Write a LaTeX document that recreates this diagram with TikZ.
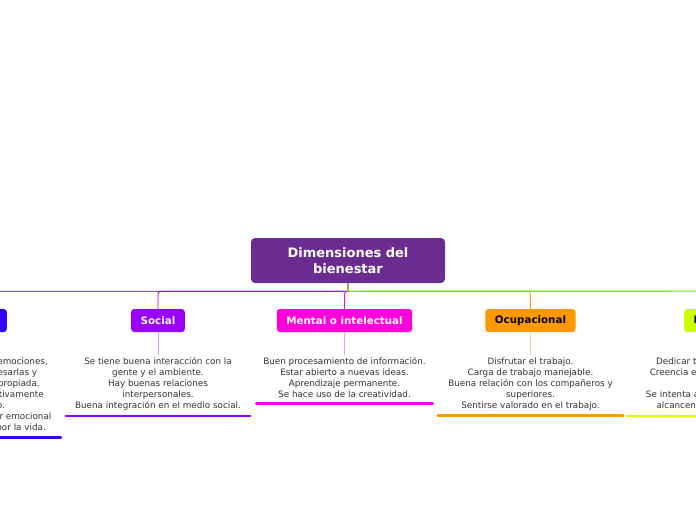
\documentclass[tikz,border=0pt]{standalone}
\usepackage{fontspec}
\setmainfont{DejaVu Sans}
\usetikzlibrary{positioning}
\definecolor{craiz}{HTML}{6A2C91}
\definecolor{cemo}{HTML}{3300FF}
\definecolor{csoc}{HTML}{9900FF}
\definecolor{cmen}{HTML}{FF00DD}
\definecolor{cocu}{HTML}{FF9900}
\definecolor{cesp}{HTML}{CCFF00}
\definecolor{cfis}{HTML}{44DD22}
\definecolor{ctexto}{HTML}{333333}

\begin{document}
\begin{tikzpicture}[x=1pt,y=-1pt,
		raiz/.style={
			fill=craiz,
			rounded corners=4pt,
			text=white,
			font=\fontsize{13}{16}\selectfont\bfseries,
			align=center,
			minimum width=194pt,
			minimum height=45pt
		},
		rama/.style={fill=#1, rounded corners=3pt, font=\fontsize{10.3}{12}\selectfont\bfseries, minimum height=23pt, inner xsep=9.5pt},
		texto/.style={font=\fontsize{8.8}{11}\selectfont, text=ctexto, align=center, inner sep=0pt},
		linea/.style={line width=0.9pt},
		guia/.style={line width=0.8pt},
		subraya/.style={line width=2.6pt, line cap=round}]
		\useasboundingbox (0,0) rectangle (696,520);
		\clip (0,0) rectangle (696,520);
		
		\node[raiz] (dim) at (348,260.5) {Dimensiones del\\bienestar};
		
		\node[rama=cemo, text=white, anchor=east] (emo) at (7,320.5) {Emocional};
		\node[rama=csoc, text=white] (soc) at (158,320.5) {Social};
		\node[rama=cmen, text=white] (men) at (344.5,320.5) {Mental o intelectual};
		\node[rama=cocu] (ocu) at (530.5,320.5) {Ocupacional};
		\node[rama=cesp, anchor=west] (esp) at (684,320.5) {Espiritual};
		\coordinate (sig) at (760,291);
		
		% ramas desde la raiz
		\draw[linea, cemo] (dim.south) -- ++(0,8) [rounded corners=3pt] -| (emo.north);
		\draw[linea, csoc] (dim.south) -- ++(0,8) [rounded corners=3pt] -| (soc.north);
		\draw[linea, cmen] (dim.south) -- ++(0,8) [rounded corners=3pt] -| (men.north);
		\draw[linea, cocu] (dim.south) -- ++(0,8) [rounded corners=3pt] -| (ocu.north);
		\draw[linea, cesp] (dim.south) -- ++(0,8) [rounded corners=3pt] -| (esp.north);
		\draw[linea, cfis] (dim.south) -- ++(0,8) -- (sig);
		
		% textos
		\node[texto, below=25.5pt of emo, minimum width=186pt] (temo) {Capacidad de identificar emociones,\\aceptarlas, poder expresarlas y\\controlarlas de forma apropiada.\\Se afronta el estrés efectivamente\\y se vive seguro.\\Se tiene un buen bienestar emocional\\Se muestra entusiasmo por la vida.};
		\node[texto, below=25.5pt of soc, minimum width=184pt] (tsoc) {Se tiene buena interacción con la\\gente y el ambiente.\\Hay buenas relaciones\\interpersonales.\\Buena integración en el medio social.};
		\node[texto, below=25.5pt of men, minimum width=176pt] (tmen) {Buen procesamiento de información.\\Estar abierto a nuevas ideas.\\Aprendizaje permanente.\\Se hace uso de la creatividad.};
		\node[texto, below=25.5pt of ocu, minimum width=185pt] (tocu) {Disfrutar el trabajo.\\Carga de trabajo manejable.\\Buena relación con los compañeros y\\superiores.\\Sentirse valorado en el trabajo.};
		\node[texto, below=25.5pt of esp, minimum width=188pt] (tesp) {Dedicar tiempo a la reflexión.\\Creencia en algo superior a uno.\\ \\Se intenta actuar de forma que se\\alcancen sus propios valores.};
		
		\draw[guia, cemo!40] (emo.south) -- ([yshift=3pt]temo.north);
		\draw[guia, csoc!40] (soc.south) -- ([yshift=3pt]tsoc.north);
		\draw[guia, cmen!40] (men.south) -- ([yshift=3pt]tmen.north);
		\draw[guia, cocu!40] (ocu.south) -- ([yshift=3pt]tocu.north);
		\draw[guia, cesp!40] (esp.south) -- ([yshift=3pt]tesp.north);
		
		\draw[subraya, cemo] ([yshift=-5pt]temo.south west) -- ([yshift=-5pt]temo.south east);
		\draw[subraya, csoc] ([yshift=-5pt]tsoc.south west) -- ([yshift=-5pt]tsoc.south east);
		\draw[subraya, cmen] ([yshift=-5pt]tmen.south west) -- ([yshift=-5pt]tmen.south east);
		\draw[subraya, cocu] ([yshift=-5pt]tocu.south west) -- ([yshift=-5pt]tocu.south east);
		\draw[subraya, cesp] ([yshift=-5pt]tesp.south west) -- ([yshift=-5pt]tesp.south east);
	\end{tikzpicture}
\end{document}
